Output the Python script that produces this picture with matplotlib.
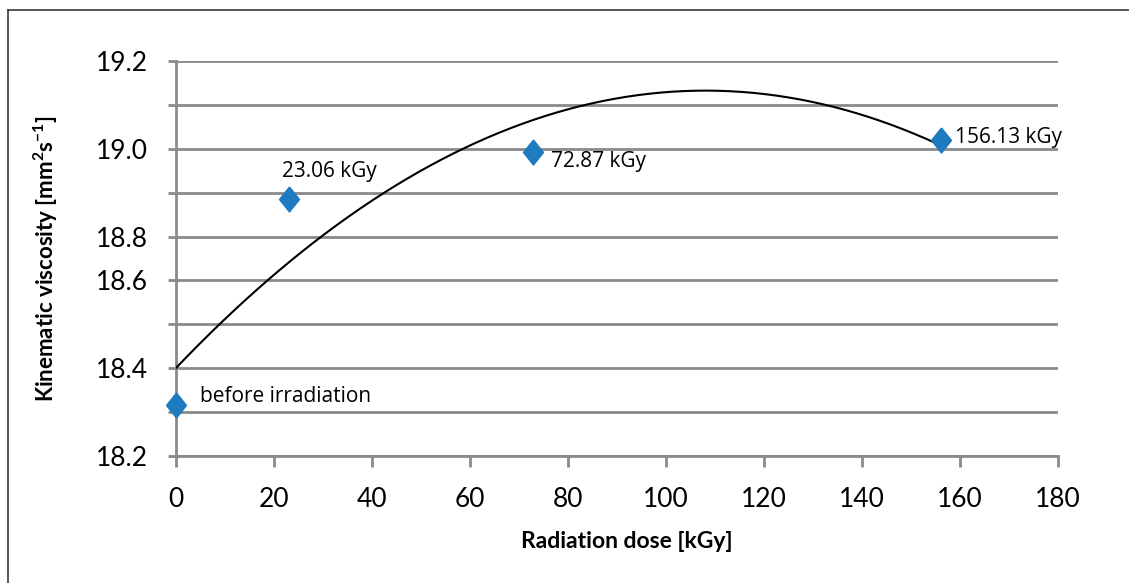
import matplotlib.pyplot as plt
import numpy as np
from matplotlib.lines import Line2D
from matplotlib.path import Path

# measured points
dose = [0.0, 23.06, 72.87, 156.13]
viscosity = [18.33, 18.85, 18.97, 19.00]
labels = ["before irradiation", "23.06 kGy", "72.87 kGy", "156.13 kGy"]
label_offsets = [(17, 6), (-5, 20), (13, -7), (10, 2)]

x_ticks = [0, 20, 40, 60, 80, 100, 120, 140, 160, 180]
# the spreadsheet axis: 18.2..19.2 split into 9 intervals, only some labelled
y_min, y_max, y_intervals = 18.2, 19.2, 9
y_tick_labels = ["18.2", "", "18.4", "", "18.6", "18.8", "", "19.0", "", "19.2"]

grey = "#8a8a8a"
blue = "#1f7bbf"

plt.rcParams["mathtext.fontset"] = "custom"
plt.rcParams["mathtext.bf"] = "Lato:bold"
plt.rcParams["mathtext.rm"] = "Lato:bold"

fig = plt.figure(figsize=(11.29, 5.83), dpi=100)
ax = fig.add_axes([176 / 1129, 1 - 456 / 583, (1058 - 176) / 1129, (456 - 61) / 583])

# frame around the chart area (only top and left edges are inside the picture)
fx, fy = 8 / 1129, 1 - 10 / 583
fig.lines.append(Line2D([fx, 1.0], [fy, fy], transform=fig.transFigure,
                        color="#3a3a3a", linewidth=1.2))
fig.lines.append(Line2D([fx, fx], [0.0, fy], transform=fig.transFigure,
                        color="#3a3a3a", linewidth=1.2))

# second order trendline, like the spreadsheet one
coef = np.polyfit(dose, viscosity, 2)
xs = np.linspace(0, max(dose), 200)
ax.plot(xs, np.polyval(coef, xs), color="black", linewidth=1.5, zorder=3)

diamond = Path([(0, 1), (0.8, 0), (0, -1), (-0.8, 0), (0, 1)])
ax.plot(dose, viscosity, linestyle="none", marker=diamond, markersize=18,
        color=blue, zorder=4, clip_on=False)

for x, y, lab, off in zip(dose, viscosity, labels, label_offsets):
    ax.annotate(lab, (x, y), xytext=off, textcoords="offset points",
                ha="left", va="center", fontsize=15, family="Open Sans")

ax.set_xlim(0, 180)
ax.set_ylim(y_min, y_max)
ax.set_xticks(x_ticks)
ax.set_yticks(np.linspace(y_min, y_max, y_intervals + 1))
ax.set_yticklabels(y_tick_labels)
ax.grid(axis="y", color=grey, linewidth=2)
ax.set_axisbelow(True)

for side in ["top", "right"]:
    ax.spines[side].set_visible(False)
for side in ["left", "bottom"]:
    ax.spines[side].set_color(grey)
    ax.spines[side].set_linewidth(2)

ax.tick_params(axis="y", length=6, width=2, color=grey, pad=14,
               labelsize=19)
ax.tick_params(axis="x", length=8, width=2, color=grey, pad=14,
               labelsize=19)
for t in ax.get_xticklabels() + ax.get_yticklabels():
    t.set_family("Lato")

ax.set_xlabel("Radiation dose [kGy]", fontsize=16.5, fontweight="bold",
              family="Lato", labelpad=14)
ax.xaxis.label.set_x(0.511)
ax.set_ylabel("Kinematic viscosity [mm$^{2}$s$^{-1}$]", fontsize=16,
              fontweight="bold", family="Lato", labelpad=26)

fig.savefig("out.png", dpi=100)
